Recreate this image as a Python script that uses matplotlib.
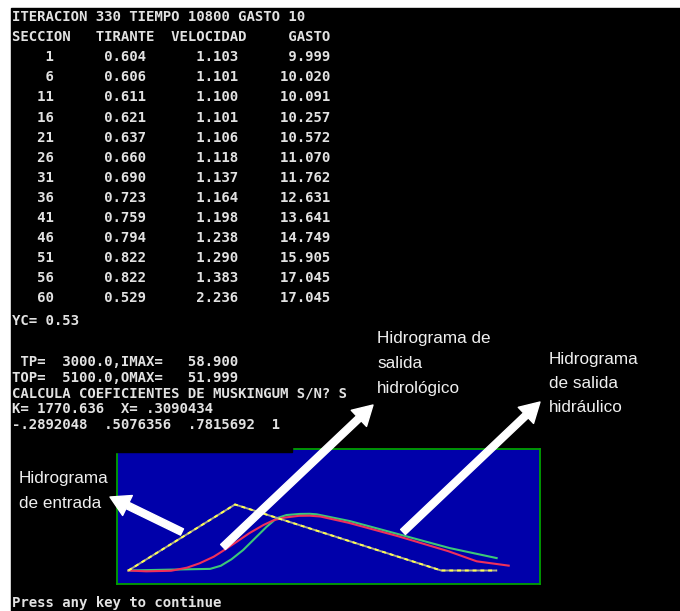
import matplotlib
matplotlib.use("Agg")
import matplotlib.pyplot as plt
from matplotlib.patches import Rectangle, FancyArrowPatch, ArrowStyle


# results printed by the routing program
iteracion, tiempo, gasto_base = 330, 10800, 10
secciones = [1, 6, 11, 16, 21, 26, 31, 36, 41, 46, 51, 56, 60]
tirante = [0.604, 0.606, 0.611, 0.621, 0.637, 0.660, 0.690,
           0.723, 0.759, 0.794, 0.822, 0.822, 0.529]
velocidad = [1.103, 1.101, 1.100, 1.101, 1.106, 1.118, 1.137,
             1.164, 1.198, 1.238, 1.290, 1.383, 2.236]
gasto = [9.999, 10.020, 10.091, 10.257, 10.572, 11.070, 11.762,
         12.631, 13.641, 14.749, 15.905, 17.045, 17.045]
yc = 0.53
tp, imax = 3000.0, 58.900
top, omax = 5100.0, 51.999
k_musk, x_musk = 1770.636, .3090434
coeficientes = [-.2892048, .5076356, .7815692, 1]

# hydrographs: time (s) vs discharge (m3/s)
t_entrada = [0, 3000, 8800, 10350]
q_entrada = [10.0, 58.9, 10.0, 10.0]

t_hidrologico = [0, 500, 1200, 1650, 2000, 2400, 2700, 3050, 3400, 3800,
                 4100, 4400, 4800, 5100, 5400, 6200, 7600, 9000, 9800, 10700]
q_hidrologico = [10.0, 9.4, 9.8, 12.1, 15.3, 20.2, 25.2, 31.3, 37.6, 43.7,
                 47.4, 49.2, 50.5, 50.6, 50.0, 45.3, 35.3, 24.3, 16.8, 13.6]

t_hidraulico = [0, 1100, 2300, 2600, 2900, 3230, 3560, 3890, 4170, 4450,
                4830, 5100, 5300, 6230, 7640, 9040, 10360]
q_hidraulico = [10.0, 10.6, 11.2, 13.5, 18.3, 25.2, 33.8, 42.4, 48.7, 51.1,
                51.9, 52.0, 51.6, 46.6, 36.6, 26.6, 19.2]


def basic(v):
    """Format a number the way BASIC prints it (no leading zero)."""
    if v == int(v):
        return str(int(v))
    return f"{v:.7f}".replace("0.", ".", 1)


fig = plt.figure(figsize=(6.8, 6.11), dpi=100, facecolor="white")

# console background, in pixel coordinates
bg = fig.add_axes([0, 0, 1, 1])
bg.set_xlim(0, 680)
bg.set_ylim(611, 0)
bg.axis("off")
bg.add_patch(Rectangle((10.5, 8), 680, 611, color="black"))

mono = dict(family="DejaVu Sans Mono", size=10.1, weight="bold",
            color="#E2E2E2", ha="left", va="center")

lineas = [f"ITERACION {iteracion} TIEMPO {tiempo} GASTO {gasto_base}",
          "SECCION   TIRANTE  VELOCIDAD     GASTO"]
for s, h, v, q in zip(secciones, tirante, velocidad, gasto):
    lineas.append(f"{s:5d}{h:11.3f}{v:11.3f}{q:11.3f}")
for i, linea in enumerate(lineas):
    bg.text(11.5, 17 + 20.1 * i, linea, **mono)

abajo = [
    (320.7, f"YC= {yc:.2f}"),
    (362.0, f" TP=  {tp:.1f},IMAX=   {imax:.3f}"),
    (378.0, f"TOP=  {top:.1f},OMAX=   {omax:.3f}"),
    (393.7, "CALCULA COEFICIENTES DE MUSKINGUM S/N? S"),
    (409.0, f"K= {k_musk:.3f}  X= {basic(x_musk)}"),
    (425.3, "  ".join(basic(c) for c in coeficientes)),
    (603.0, "Press any key to continue"),
]
for y, linea in abajo:
    bg.text(11.5, y, linea, **mono)

# hydrograph window
hx = fig.add_axes([117 / 680, (611 - 584) / 611, 423 / 680, 135 / 611], zorder=1)
hx.set_facecolor("#0000AA")
for sp in hx.spines.values():
    sp.set_color("#00A000")
    sp.set_linewidth(1.3)
hx.set_xticks([])
hx.set_yticks([])
hx.set_xlim(-320, 11580)
hx.set_ylim(0, 100)

hx.plot(t_hidraulico, q_hidraulico, color="#3CC878", lw=1.5)
hx.plot(t_hidrologico, q_hidrologico, color="#F0305A", lw=1.5)
hx.plot(t_entrada, q_entrada, color="#A8A890", lw=1.4)
hx.plot(t_entrada, q_entrada, color="#FFFF50", lw=1.4, dashes=(2, 2))

# annotations on top of everything
ov = fig.add_axes([0, 0, 1, 1], zorder=3)
ov.set_xlim(0, 680)
ov.set_ylim(611, 0)
ov.axis("off")
ov.patch.set_alpha(0)

# the console row behind the last coefficient line hides the window corner
ov.add_patch(Rectangle((110, 438), 182, 14, color="black"))

flecha = ArrowStyle("simple", head_length=1.4, head_width=1.6, tail_width=0.5)
for cola, punta in [((182, 532), (110, 497)),
                    ((223, 547), (373, 405)),
                    ((403, 532), (540, 402))]:
    ov.add_patch(FancyArrowPatch(cola, punta, arrowstyle=flecha,
                                 mutation_scale=10, color="white",
                                 shrinkA=0, shrinkB=0))

sans = dict(family="Liberation Sans", size=12.3, color="#F0F0F0",
            ha="left", va="baseline")
etiquetas = [
    (19, [483.3, 508.3], ["Hidrograma", "de entrada"]),
    (377, [343.3, 368.3, 392.5], ["Hidrograma de", "salida", "hidrológico"]),
    (549, [364.3, 388.3, 411.7], ["Hidrograma", "de salida", "hidráulico"]),
]
for x, ys, textos in etiquetas:
    for y, t in zip(ys, textos):
        ov.text(x, y, t, **sans)

plt.savefig("out.png", dpi=100, facecolor=fig.get_facecolor())
